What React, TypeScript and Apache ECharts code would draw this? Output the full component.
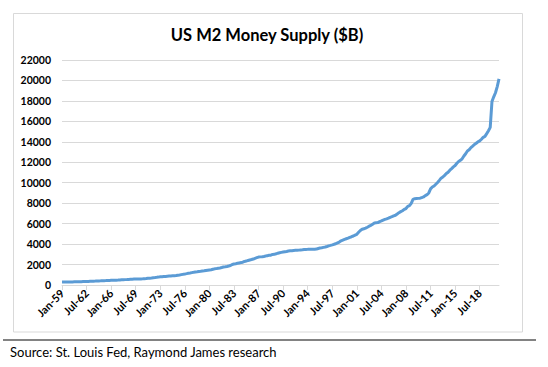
import React, { useEffect, useRef } from "react";
import * as echarts from "echarts";

// Quarterly M2 values ($B): Jan, Apr, Jul, Oct of each year
const m2_1959_1969 = [
  286.6, 290.5, 295.5, 297.0,
  298.2, 299.0, 304.0, 309.0,
  312.4, 317.5, 323.0, 329.0,
  335.5, 341.0, 346.0, 353.0,
  362.2, 369.0, 376.0, 384.0,
  393.2, 399.0, 407.0, 416.0,
  424.7, 431.0, 439.0, 449.0,
  459.2, 463.0, 466.0, 470.0,
  480.2, 491.0, 505.0, 515.0,
  525.5, 535.0, 546.0, 558.0,
  569.4, 575.0, 580.0, 585.0,
];
const m2_1970_1979 = [
  589.6, 594.0, 605.0, 617.0,
  628.2, 652.0, 671.0, 687.0,
  710.4, 728.0, 749.0, 772.0,
  802.4, 815.0, 829.0, 841.0,
  855.5, 869.0, 880.0, 893.0,
  902.1, 925.0, 957.0, 982.0,
  1016.2, 1045.0, 1078.0, 1112.0,
  1152.8, 1180.0, 1210.0, 1240.0,
  1270.2, 1290.0, 1315.0, 1340.0,
  1366.0, 1390.0, 1420.0, 1450.0,
];
const m2_1980_1989 = [
  1474.7, 1490.0, 1540.0, 1580.0,
  1600.3, 1640.0, 1670.0, 1710.0,
  1756.2, 1785.0, 1815.0, 1860.0,
  1905.8, 2010.0, 2050.0, 2085.0,
  2123.5, 2160.0, 2190.0, 2230.0,
  2306.4, 2340.0, 2400.0, 2450.0,
  2492.1, 2540.0, 2610.0, 2670.0,
  2729.2, 2750.0, 2760.0, 2790.0,
  2828.8, 2870.0, 2900.0, 2920.0,
  2990.2, 3000.0, 3050.0, 3110.0,
];
const m2_1990_1999 = [
  3155.7, 3190.0, 3220.0, 3250.0,
  3279.3, 3320.0, 3340.0, 3360.0,
  3380.4, 3390.0, 3390.0, 3410.0,
  3431.6, 3440.0, 3460.0, 3480.0,
  3484.0, 3500.0, 3500.0, 3500.0,
  3494.6, 3510.0, 3570.0, 3610.0,
  3639.9, 3680.0, 3720.0, 3770.0,
  3821.9, 3870.0, 3920.0, 3980.0,
  4032.8, 4120.0, 4200.0, 4320.0,
  4390.0, 4460.0, 4520.0, 4580.0,
];
const m2_2000_2009 = [
  4662.9, 4720.0, 4790.0, 4880.0,
  4960.0, 5150.0, 5330.0, 5450.0,
  5500.0, 5560.0, 5650.0, 5750.0,
  5830.0, 5950.0, 6060.0, 6080.0,
  6100.0, 6200.0, 6270.0, 6350.0,
  6418.5, 6470.0, 6540.0, 6620.0,
  6680.1, 6760.0, 6820.0, 6940.0,
  7071.2, 7170.0, 7260.0, 7390.0,
  7475.4, 7690.0, 7760.0, 7980.0,
  8380.0, 8440.0, 8460.0, 8470.0,
];
const m2_2010_2021 = [
  8490.0, 8550.0, 8610.0, 8740.0,
  8830.0, 9000.0, 9400.0, 9580.0,
  9680.0, 9850.0, 10020.0, 10230.0,
  10445.0, 10560.0, 10720.0, 10900.0,
  11031.0, 11230.0, 11380.0, 11550.0,
  11680.0, 11900.0, 12080.0, 12190.0,
  12340.0, 12610.0, 12830.0, 13100.0,
  13220.0, 13430.0, 13580.0, 13740.0,
  13860.0, 14000.0, 14090.0, 14250.0,
  14440.0, 14530.0, 14800.0, 15080.0,
  15410.0, 17950.0, 18400.0, 18800.0,
  19400.0, 20150.0,
];

const m2Values = [
  ...m2_1959_1969,
  ...m2_1970_1979,
  ...m2_1980_1989,
  ...m2_1990_1999,
  ...m2_2000_2009,
  ...m2_2010_2021,
];

const QUARTER_MONTHS = ["Jan", "Apr", "Jul", "Oct"];
const categories: string[] = [];
for (let y = 1959; y <= 2021; y++) {
  for (const m of QUARTER_MONTHS) {
    if (categories.length >= m2Values.length) break;
    categories.push(`${m}-${String(y % 100).padStart(2, "0")}`);
  }
}

const TITLE = "US M2 Money Supply ($B)";
const SOURCE = "Source: St. Louis Fed, Raymond James research";
const FONT = "Lato, 'Open Sans', sans-serif";

export default function App() {
  const ref = useRef<HTMLDivElement>(null);
  useEffect(() => {
    document.body.style.margin = "0";
    if (!ref.current) return;
    const chart = echarts.init(ref.current, undefined, { renderer: "svg" });
    chart.setOption({
      animation: false,
      backgroundColor: "#ffffff",
      textStyle: { fontFamily: FONT },
      grid: { left: 62, right: 49, top: 60, bottom: 82, containLabel: false },
      xAxis: {
        type: "category",
        data: categories,
        boundaryGap: false,
        axisLine: { lineStyle: { color: "#d9d9d9", width: 1 } },
        axisTick: { show: true, interval: 13, length: 5, lineStyle: { color: "#d9d9d9" } },
        axisLabel: {
          interval: 13,
          rotate: 45,
          margin: 6,
          color: "#000000",
          fontWeight: "bold",
          fontSize: 11,
          fontFamily: FONT,
        },
        splitLine: { show: false },
      },
      yAxis: {
        type: "value",
        min: 0,
        max: 22000,
        interval: 2000,
        axisLine: { show: false },
        axisTick: { show: false },
        axisLabel: {
          margin: 11,
          color: "#000000",
          fontWeight: "bold",
          fontSize: 10.5,
          fontFamily: FONT,
          formatter: (v: number) => String(v),
        },
        splitLine: { lineStyle: { color: "#d9d9d9", width: 1 } },
      },
      series: [
        {
          type: "line",
          data: m2Values,
          showSymbol: false,
          symbol: "none",
          lineStyle: { color: "#5b9bd5", width: 3 },
          smooth: false,
        },
      ],
      graphic: [
        {
          type: "rect",
          shape: { x: 13.5, y: 13.5, width: 509, height: 318.5 },
          style: { fill: "none", stroke: "#d9d9d9", lineWidth: 1 },
          silent: true,
        },
        {
          type: "text",
          x: 267,
          y: 35,
          style: {
            text: TITLE,
            fill: "#000000",
            font: `bold 16.5px ${FONT}`,
            textAlign: "center",
            textVerticalAlign: "middle",
          },
        },
        {
          type: "line",
          shape: { x1: 3, y1: 340, x2: 536, y2: 340 },
          style: { stroke: "#595959", lineWidth: 1.5 },
          silent: true,
        },
        {
          type: "text",
          x: 10,
          y: 352,
          style: {
            text: SOURCE,
            fill: "#000000",
            font: `13px ${FONT}`,
            textAlign: "left",
            textVerticalAlign: "middle",
          },
        },
      ],
    });
    return () => chart.dispose();
  }, []);
  return <div ref={ref} style={{ width: 548, height: 367 }} />;
}
